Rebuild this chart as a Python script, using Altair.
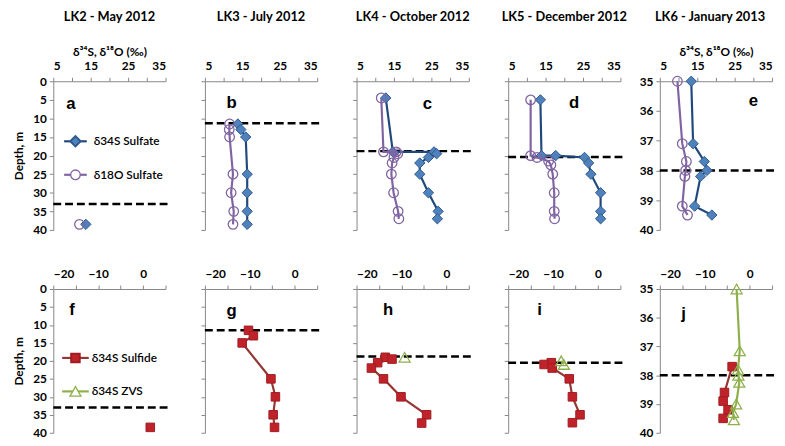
import altair as alt
import pandas as pd

# ---------------- data ----------------
titles = ["LK2 - May 2012", "LK3 - July 2012", "LK4 - October 2012",
          "LK5 - December 2012", "LK6 - January 2013"]
letters_top = ["a", "b", "c", "d", "e"]
letters_bot = ["f", "g", "h", "i", "j"]

# sulfate (top row)
a_depth = [38.5]
a_d34S = [13.7]
a_d18O = [12.0]

b_depth = [11.5, 13.0, 15.0, 25.0, 30.0, 35.0, 38.5]
b_d34S = [13.8, 14.6, 15.9, 16.3, 16.3, 16.3, 16.3]
b_d18O = [11.6, 11.5, 11.6, 12.5, 12.0, 12.7, 12.5]

c_depth = [4.5, 19.0, 19.0, 19.5, 20.5, 22.0, 25.0, 30.0, 35.0, 37.0]
c_d34S = [12.8, 14.7, 25.7, 26.4, 24.2, 21.9, 21.9, 24.2, 26.8, 26.6]
c_d18O = [11.6, 12.2, 15.6, 16.0, 15.0, 14.5, 14.3, 14.9, 16.1, 16.3]

d_depth_S = [5.0, 20.0, 20.0, 20.5, 22.0, 25.0, 30.0, 35.0, 37.0]
d_d34S = [13.6, 13.9, 17.7, 25.4, 26.5, 27.1, 29.7, 29.7, 29.7]
d_depth_O = [5.0, 20.0, 20.5, 21.5, 22.5, 25.0, 30.0, 35.0, 37.0]
d_d18O = [11.0, 11.0, 12.7, 15.8, 16.4, 16.9, 17.3, 17.3, 17.4]

e_depth = [35.0, 37.1, 37.7, 38.0, 38.2, 39.2, 39.5]
e_d34S = [13.4, 13.9, 16.9, 17.6, 15.9, 14.3, 18.9]
e_d18O = [9.7, 11.0, 12.1, 11.9, 11.7, 11.0, 12.4]

# sulfide / ZVS (bottom row)
f_depth = [38.5]
f_sulfide = [1.6]

g_depth = [11.5, 13.0, 15.0, 25.0, 30.0, 35.0, 38.5]
g_sulfide = [-10.3, -9.2, -11.7, -5.3, -4.3, -4.8, -4.5]

h_depth = [19.0, 19.5, 20.5, 22.0, 25.0, 30.0, 35.0, 37.3]
h_sulfide = [-13.6, -12.1, -15.3, -16.7, -14.0, -10.1, -4.4, -5.5]
h_zvs_depth = [19.0]
h_zvs = [-9.3]

i_depth = [20.5, 21.0, 22.0, 25.0, 30.0, 35.0, 37.2]
i_sulfide = [-10.4, -12.0, -10.2, -6.4, -5.7, -4.0, -5.7]
i_zvs_depth = [20.0, 21.0]
i_zvs = [-8.2, -7.6]

j_sulf_depth = [37.7, 38.6, 38.9, 39.2, 39.5]
j_sulfide = [-3.9, -5.6, -5.9, -4.8, -5.9]
j_zvs_depth = [35.0, 37.15, 37.8, 38.0, 38.25, 39.0, 39.3, 39.55]
j_zvs = [-2.9, -2.2, -2.6, -2.5, -2.3, -3.0, -3.7, -3.5]

# chemocline (dashed line) depths
dash_top = [33.0, 11.3, 18.8, 20.4, 38.0]
dash_bot = [33.0, 11.5, 18.8, 20.5, 38.0]

top_ticks = [5, 10, 15, 20, 25, 30, 35]
bot_ticks = [-20, -15, -10, -5, 0, 5]
deep_ticks = [0, 5, 10, 15, 20, 25, 30, 35, 40]
lk6_ticks = [35, 36, 37, 38, 39, 40]

# ---------------- styles ----------------
W = 114
H_TOP = 151
H_BOT = 146
FONT = "Lato"

S_SULFATE = dict(line="#1F497D", shape="diamond", filled=True, fill="#4F81BD", stroke="#2E5A8C", size=110)
O_SULFATE = dict(line="#8064A2", shape="circle", filled=False, fill="none", stroke="#8064A2", size=95)
S_SULFIDE = dict(line="#953735", shape="square", filled=True, fill="#C0222A", stroke="#A01C22", size=75)
S_ZVS = dict(line="#8DB04A", shape="triangle-up", filled=False, fill="none", stroke="#8DB04A", size=125)


def series_layers(depths, values, st, xenc, yenc):
    df = pd.DataFrame({"d": depths, "v": values, "i": list(range(len(depths)))})
    line = alt.Chart(df).mark_line(color=st["line"], strokeWidth=2.2).encode(
        x=xenc, y=yenc, order="i:Q")
    if st["filled"]:
        pts = alt.Chart(df).mark_point(shape=st["shape"], filled=True, fill=st["fill"],
                                       stroke=st["stroke"], strokeWidth=1, size=st["size"],
                                       opacity=1).encode(x=xenc, y=yenc)
    else:
        pts = alt.Chart(df).mark_point(shape=st["shape"], filled=False, stroke=st["stroke"],
                                       strokeWidth=1.3, size=st["size"], opacity=1).encode(x=xenc, y=yenc)
    return [line, pts]


def legend_layers(items, x1, x2, xt, ys):
    out = []
    for (label, st), yv in zip(items, ys):
        df = pd.DataFrame({"t": [label]})
        out.append(alt.Chart(df).mark_rule(color=st["line"], strokeWidth=2.2).encode(
            x=alt.value(x1), x2=alt.value(x2), y=alt.value(yv)))
        if st["filled"]:
            out.append(alt.Chart(df).mark_point(shape=st["shape"], filled=True, fill=st["fill"],
                                                stroke=st["stroke"], size=st["size"], opacity=1).encode(
                x=alt.value((x1 + x2) / 2), y=alt.value(yv)))
        else:
            out.append(alt.Chart(df).mark_point(shape=st["shape"], filled=True, fill="white",
                                                stroke=st["stroke"], strokeWidth=1.3, size=st["size"],
                                                opacity=1).encode(
                x=alt.value((x1 + x2) / 2), y=alt.value(yv)))
        out.append(alt.Chart(df).mark_text(font=FONT, fontSize=12, fontWeight=600, align="left",
                                           baseline="middle", color="black").encode(
            text="t:N", x=alt.value(xt), y=alt.value(yv)))
    return out


def panel(series, xdom, xticks, label_rem, ydom, yticks, show_ylab, xtitle, dash, letter,
          letter_pos, height, title=None, title_dx=0, legend=None):
    label_expr = "abs(datum.value % 10) == " + str(label_rem) + " ? datum.label : ''"
    xaxis_kwargs = dict(orient="top", values=xticks, labelExpr=label_expr,
                        grid=False, titlePadding=1, labelPadding=5)
    if xtitle is None:
        xaxis_kwargs["title"] = None
    else:
        xaxis_kwargs["title"] = xtitle
    xenc = alt.X("v:Q", scale=alt.Scale(domain=xdom, nice=False, zero=False),
                 axis=alt.Axis(**xaxis_kwargs))
    if show_ylab:
        yaxis = alt.Axis(values=yticks, grid=False, title="Depth, m" if ydom[0] == 0 else None,
                         titlePadding=7)
    else:
        yaxis = alt.Axis(values=yticks, grid=False, labels=False, title=None)
    yenc = alt.Y("d:Q", scale=alt.Scale(domain=ydom, reverse=True, nice=False, zero=False), axis=yaxis)

    layers = []
    ddf = pd.DataFrame({"d": [dash]})
    layers.append(alt.Chart(ddf).mark_rule(color="black", strokeWidth=2.5, strokeDash=[8, 4]).encode(
        y=yenc, x=alt.value(0), x2=alt.value(W + 3)))
    for depths, values, st in series:
        layers += series_layers(depths, values, st, xenc, yenc)
    ldf = pd.DataFrame({"t": [letter]})
    layers.append(alt.Chart(ldf).mark_text(font="Liberation Sans", fontSize=17, fontWeight="bold",
                                           align="center", baseline="middle", color="black").encode(
        text="t:N", x=alt.value(letter_pos[0]), y=alt.value(letter_pos[1])))
    if legend is not None:
        layers += legend
    ch = alt.layer(*layers).properties(width=W, height=height)
    if title is not None:
        ch = ch.properties(title=alt.TitleParams(title, font=FONT, fontSize=13, fontWeight="bold",
                                                 anchor="middle", frame="group", offset=22, dx=title_dx,
                                                 color="black"))
    return ch


AX_TITLE = "δ³⁴S, δ¹⁸O (‰)"

top_panels = [
    panel([(a_depth, a_d34S, S_SULFATE), (a_depth, a_d18O, O_SULFATE)], [5, 35], top_ticks, 5,
          [0, 40], deep_ticks, True, AX_TITLE, dash_top[0], "a", (18, 23), H_TOP, titles[0],
          legend=legend_layers([("δ34S Sulfate", S_SULFATE), ("δ18O Sulfate", O_SULFATE)],
                               11, 34, 41, [61, 95])),
    panel([(b_depth, b_d34S, S_SULFATE), (b_depth, b_d18O, O_SULFATE)], [5, 35], top_ticks, 5,
          [0, 40], deep_ticks, False, " ", dash_top[1], "b", (27, 22), H_TOP, titles[1]),
    panel([(c_depth, c_d34S, S_SULFATE), (c_depth, c_d18O, O_SULFATE)], [5, 35], top_ticks, 5,
          [0, 40], deep_ticks, False, " ", dash_top[2], "c", (72, 23), H_TOP, titles[2]),
    panel([(d_depth_S, d_d34S, S_SULFATE), (d_depth_O, d_d18O, O_SULFATE)], [5, 35], top_ticks, 5,
          [0, 40], deep_ticks, False, " ", dash_top[3], "d", (67, 22), H_TOP, titles[3]),
    panel([(e_depth, e_d34S, S_SULFATE), (e_depth, e_d18O, O_SULFATE)], [5, 35], top_ticks, 5,
          [35, 40], lk6_ticks, True, AX_TITLE, dash_top[4], "e", (95, 20), H_TOP, titles[4],
          title_dx=-6),
]

bot_panels = [
    panel([(f_depth, f_sulfide, S_SULFIDE)], [-20, 5], bot_ticks, 0,
          [0, 40], deep_ticks, True, None, dash_bot[0], "f", (19, 21), H_BOT,
          legend=legend_layers([("δ34S Sulfide", S_SULFIDE), ("δ34S ZVS", S_ZVS)],
                               9, 36, 39, [70, 104])),
    panel([(g_depth, g_sulfide, S_SULFIDE)], [-20, 5], bot_ticks, 0,
          [0, 40], deep_ticks, False, None, dash_bot[1], "g", (27, 22), H_BOT),
    panel([(h_depth, h_sulfide, S_SULFIDE), (h_zvs_depth, h_zvs, S_ZVS)], [-20, 5], bot_ticks, 0,
          [0, 40], deep_ticks, False, None, dash_bot[2], "h", (32, 21), H_BOT),
    panel([(i_depth, i_sulfide, S_SULFIDE), (i_zvs_depth, i_zvs, S_ZVS)], [-20, 5], bot_ticks, 0,
          [0, 40], deep_ticks, False, None, dash_bot[3], "i", (32, 21), H_BOT),
    panel([(j_sulf_depth, j_sulfide, S_SULFIDE), (j_zvs_depth, j_zvs, S_ZVS)], [-20, 5], bot_ticks, 0,
          [35, 40], lk6_ticks, True, None, dash_bot[4], "j", (24, 25), H_BOT),
]

chart = alt.concat(*top_panels, *bot_panels, columns=5,
                   spacing=alt.RowColnumber(row=60, column=40), bounds="flush").properties(
    padding={"left": 5, "top": 0, "right": 0, "bottom": 0}, background="white"
).configure_view(stroke=None).configure_axis(
    labelFont=FONT, labelFontWeight="bold", labelFontSize=12, labelColor="black",
    titleFont=FONT, titleFontWeight="bold", titleFontSize=12, titleColor="black",
    domainColor="#868686", tickColor="#868686", tickSize=4, labelPadding=3,
    domainWidth=1, tickWidth=1
)

chart.save("out.html", embed_options={"renderer": "svg", "actions": False})
